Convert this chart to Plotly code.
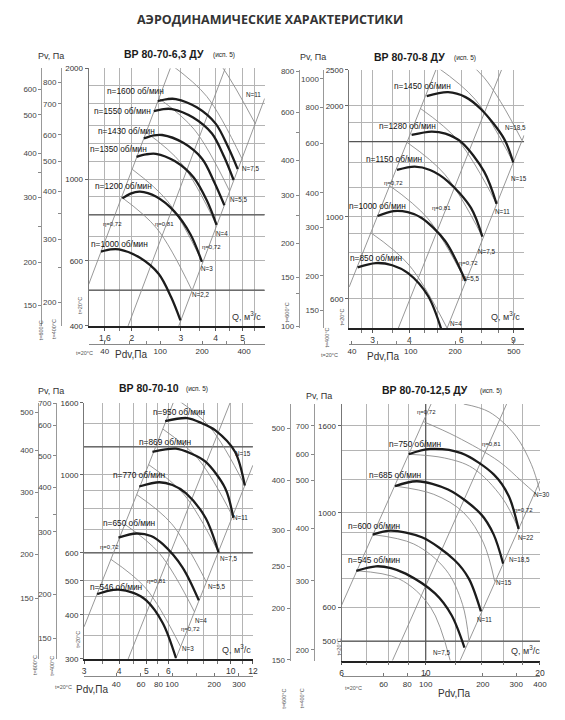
import math
import plotly.graph_objects as go

W, H = 565, 720
TITLE = "АЭРОДИНАМИЧЕСКИЕ ХАРАКТЕРИСТИКИ"

# ---------------- Panel 1 : ВР 80-70-6,3 ДУ ----------------
p1_speeds = [1000, 1200, 1350, 1430, 1550, 1600]
p1_q = [[1.55, 1.68, 1.80, 2.14, 2.5, 2.77, 2.99],
        [1.85, 1.98, 2.14, 2.45, 2.84, 3.25, 3.57],
        [2.08, 2.25, 2.44, 2.86, 3.33, 3.72, 4.03],
        [2.21, 2.40, 2.57, 3.06, 3.58, 3.96, 4.30],
        [2.40, 2.60, 2.79, 3.32, 3.88, 4.29, 4.64],
        [2.48, 2.69, 2.88, 3.42, 4.00, 4.43, 4.80]]
p1_p = [[636, 645, 645, 612, 553, 478, 414],
        [887, 914, 925, 896, 818, 708, 597],
        [1150, 1168, 1172, 1118, 1012, 875, 752],
        [1290, 1315, 1318, 1255, 1135, 980, 850],
        [1530, 1550, 1550, 1470, 1330, 1150, 995],
        [1630, 1650, 1650, 1567, 1415, 1224, 1065]]
p1_power = ["2,2", "3", "4", "5,5", "7,5", "11"]
p1_power_q = [[1.84, 2.46, 3.29], [2.01, 2.686, 3.59], [2.25, 3.01, 4.03],
              [2.5, 3.35, 4.49], [2.78, 3.717, 4.97], [3.16, 4.2, 5.55]]
p1_power_p = [[893, 735, 499], [1063, 872, 594], [1341, 1105, 750],
              [1658, 1365, 928], [2040, 1677, 1137], [2637, 2030, 1415]]
p1_eff = ["0,72", "0,81", "0,72"]
p1_eff_q = [[1.4, 2.75], [1.94, 4.33], [2.95, 6.0]]
p1_eff_p = [[518, 2000], [400, 2000], [400, 1656]]
p1_q_ticks = [1.6, 1.8, 2, 2.5, 3, 3.5, 4, 4.5, 5, 5.5]
p1_q_labels = ["1,6", "", "2", "", "3", "", "4", "", "5", ""]
p1_p_ticks = [400, 500, 600, 700, 800, 900, 1000, 1120, 1250, 1400, 1600, 1800, 2000]
p1_p_labels = ["400", "", "600", "", "", "", "1000", "", "", "", "", "", "2000"]
p1_dark_p = [500, 800]
p1_dark_q = []
p1_pdv_ticks = [40, 60, 80, 100, 200, 300, 400]
p1_pdv_labels = ["40", "", "", "100", "200", "", "400"]
p1_t400_at = [1835, 1601, 1320, 1120, 925, 808, 686, 576, 464]
p1_t400_labels = ["800", "700", "600", "500", "400", "", "300", "", "200"]
p1_t600_at = [1750, 1494, 1176, 1040, 891, 743, 596, 455]
p1_t600_labels = ["600", "500", "400", "", "300", "", "200", "150"]

# ---------------- Panel 2 : ВР 80-70-8 ДУ ----------------
p2_speeds = [850, 1000, 1150, 1280, 1450]
p2_q = [[2.67, 3.08, 3.5, 3.97, 4.64, 5.2],
        [3.12, 3.54, 3.95, 4.39, 5.28, 6.2],
        [3.63, 4.17, 4.7, 5.41, 6.47, 7.07],
        [4.07, 4.76, 5.3, 6.0, 7.17, 7.9],
        [4.58, 5.41, 6.2, 7.0, 8.38, 9.0]]
p2_p = [[730, 750, 740, 703, 609, 480],
        [1006, 1037, 1030, 995, 862, 671],
        [1340, 1368, 1340, 1247, 1058, 884],
        [1667, 1703, 1680, 1594, 1326, 1085],
        [2124, 2176, 2110, 1956, 1627, 1404]]
p2_power = ["4", "5,5", "7,5", "11", "15", "18,5"]
p2_power_q = [[2.962, 3.988, 5.37], [3.43, 4.611, 6.2], [3.926, 5.268, 7.07],
              [4.363, 5.871, 7.9], [4.964, 6.684, 9.0], [5.32, 7.154, 9.62]]
p2_power_p = [[906, 741, 500], [1215, 992, 671], [1592, 1305, 884],
              [1966, 1606, 1085], [2546, 2080, 1404], [2924, 2387, 1614]]
p2_eff = ["0,72", "0,81", "0,72"]
p2_eff_q = [[2.5, 4.92], [3.67, 8.21], [5.37, 9.8]]
p2_eff_p = [[646, 2500], [500, 2500], [500, 1665]]
p2_q_ticks = [2.75, 3, 3.5, 4, 4.5, 5, 6, 7, 8, 9]
p2_q_labels = ["", "3", "", "4", "", "", "6", "", "", "9"]
p2_p_ticks = [500, 600, 700, 800, 900, 1000, 1200, 1400, 1600, 1800, 2000, 2500]
p2_p_labels = ["", "600", "", "", "", "1000", "", "", "", "", "2000", "2500"]
p2_dark_p = [1600]
p2_dark_q = []
p2_pdv_ticks = [40, 60, 80, 100, 200, 300, 500]
p2_pdv_labels = ["40", "", "", "100", "200", "", "500"]
p2_t400_at = [2365, 1984, 1584, 1161, 936, 693, 559]
p2_t400_labels = ["1000", "800", "600", "400", "300", "200", "150"]
p2_t600_at = [2475, 1916, 1695, 1425, 1144, 1006, 848, 686, 622, 505]
p2_t600_labels = ["800", "600", "", "400", "300", "", "200", "150", "", "100"]

# ---------------- Panel 3 : ВР 80-70-10 ----------------
p3_speeds = [546, 650, 770, 869, 950]
p3_q = [[3.34, 3.65, 3.98, 4.5, 5.0, 5.73, 6.38],
        [3.98, 4.61, 5.2, 5.73, 6.73, 7.7],
        [4.72, 5.57, 6.2, 6.92, 8.13, 9.06],
        [5.26, 6.38, 7.2, 8.13, 9.56, 10.22],
        [5.84, 7.0, 7.9, 8.82, 10.36, 11.23]]
p3_p = [[458, 468, 472, 462, 440, 379, 302],
        [663, 681, 670, 635, 546, 440],
        [926, 952, 935, 887, 755, 601],
        [1162, 1186, 1150, 1089, 916, 755],
        [1420, 1448, 1400, 1336, 1162, 932]]
p3_power = ["3", "4", "5,5", "7,5", "11", "15"]
p3_power_q = [[3.744, 4.982, 6.63], [4.196, 5.584, 7.43], [4.626, 6.155, 8.19],
              [5.10, 6.8, 9.06], [5.73, 7.65, 10.22], [6.34, 8.44, 11.23]]
p3_power_p = [[575, 476, 325], [723, 597, 408], [878, 726, 496],
              [1068, 881, 601], [1348, 1110, 755], [1650, 1364, 932]]
p3_eff = ["0,72", "0,81", "0,72"]
p3_eff_q = [[3.0, 6.24], [4.31, 9.95], [6.37, 12.0]]
p3_eff_p = [[370, 1600], [300, 1600], [300, 1064]]
p3_q_ticks = [3, 3.5, 4, 4.5, 5, 5.5, 6, 7, 8, 9, 10, 11, 12]
p3_q_labels = ["3", "", "4", "", "5", "", "6", "", "", "", "10", "", "12"]
p3_p_ticks = [300, 350, 400, 450, 500, 600, 700, 800, 900, 1000, 1200, 1400, 1600]
p3_p_labels = ["300", "", "400", "", "500", "600", "", "", "", "1000", "", "", "1600"]
p3_dark_p = [600, 1200]
p3_dark_q = []
p3_pdv_ticks = [40, 60, 80, 100, 150, 200, 300]
p3_pdv_labels = ["40", "60", "80", "100", "", "200", "300"]
p3_t400_at = [1595, 1379, 1131, 922, 771, 689, 457, 343]
p3_t400_labels = ["700", "600", "500", "400", "", "300", "200", "150"]
p3_t600_at = [1505, 1174, 893, 755, 595, 445]
p3_t600_labels = ["500", "400", "300", "", "200", "150"]

# ---------------- Panel 4 : ВР 80-70-12,5 ДУ ----------------
p4_speeds = [545, 600, 685, 750]
p4_q = [[6.56, 7.39, 8.1, 8.85, 10.58, 11.7, 12.65],
        [7.25, 8.09, 9.77, 11.92, 13.0, 13.98],
        [8.3, 9.48, 11.45, 13.98, 15.1, 16.0],
        [9.02, 10.27, 12.41, 15.13, 16.55, 17.57]]
p4_p = [[731, 749, 742, 720, 647, 575, 483],
        [889, 908, 876, 774, 700, 587],
        [1155, 1186, 1134, 993, 890, 760],
        [1372, 1412, 1380, 1229, 1095, 916]]
p4_power = ["7,5", "11", "15", "18,5", "22", "30"]
p4_arc_q = [[6.56, 8.5, 10.3, 11.6],
            [7.25, 9.3, 11.3, 12.5, 13.0],
            [8.3, 10.5, 12.6, 14.2, 15.2],
            [9.02, 11.2, 13.3, 15.9, 17.57],
            [9.85, 12.04, 15.6, 17.9, 19.6],
            [12.6, 14.69, 17.2, 19.0, 20.0]]
p4_arc_p = [[731, 700, 600, 450],
            [889, 845, 735, 610, 501],
            [1155, 1105, 1000, 850, 690],
            [1372, 1345, 1274, 1085, 916],
            [1637, 1509, 1320, 1186, 1104],
            [1800, 1725, 1522, 1297, 1124]]
p4_eff = ["0,72", "0,81", "0,72"]
p4_eff_q = [[6.0, 10.33], [8.17, 16.34], [12.32, 20.0]]
p4_eff_p = [[607, 1800], [450, 1800], [450, 1187]]
p4_q_ticks = [6, 7, 8, 9, 10, 12, 14, 16, 18, 20]
p4_q_labels = ["6", "", "", "", "10", "", "", "", "", "20"]
p4_p_ticks = [450, 500, 600, 700, 800, 900, 1000, 1200, 1400, 1600, 1800]
p4_p_labels = ["", "500", "600", "", "", "", "1000", "", "", "1600", ""]
p4_dark_p = [500]
p4_dark_q = [10]
p4_pdv_ticks = [60, 80, 100, 200, 300, 400]
p4_pdv_labels = ["60", "80", "100", "200", "300", "400"]
p4_t400_at = [1600, 1372, 1193, 921, 693, 477]
p4_t400_labels = ["700", "600", "500", "400", "300", "200"]
p4_t600_at = [1577, 1190, 910, 748, 596, 452]
p4_t600_labels = ["500", "400", "300", "250", "200", "150"]

# ---------------- layout description (pixel boxes, label anchors) ----------------
PANELS = [
    dict(name="ВР 80-70-6,3 ДУ", speeds=p1_speeds, q=p1_q, p=p1_p,
         arc_q=p1_power_q, arc_p=p1_power_p, N=p1_power, eff=p1_eff, eff_q=p1_eff_q, eff_p=p1_eff_p,
         qt=p1_q_ticks, ql=p1_q_labels, pt=p1_p_ticks, pl=p1_p_labels,
         dark_p=p1_dark_p, dark_q=p1_dark_q, pdv_t=p1_pdv_ticks, pdv_l=p1_pdv_labels, pdv_k=15.625,
         t4=p1_t400_at, t4l=p1_t400_labels, t6=p1_t600_at, t6l=p1_t600_labels,
         box=(88, 65, 267, 326), qr=(1.4, 6.0), pr=(400, 2000), ax6=40, ax4=60, pdv_y=344,
         title=(165, 225.5, 51), pv=(49.5, 53), qlab=(248, 316),
         t20=(79, 305), t400=(53, 329), t600=(39, 330), t20b=(84, 353), pdvlab=(131, 355),
         n_pos=[(119, 243), (123, 184), (118, 147), (127, 129), (122, 108), (136, 88)],
         N_pos=[(202, 294), (208, 268), (224, 232), (240, 198), (253, 167), (256, 92)],
         eff_pos=[(112, 223), (165, 223), (213, 246)]),
    dict(name="ВР 80-70-8 ДУ", speeds=p2_speeds, q=p2_q, p=p2_p,
         arc_q=p2_power_q, arc_p=p2_power_p, N=p2_power, eff=p2_eff, eff_q=p2_eff_q, eff_p=p2_eff_p,
         qt=p2_q_ticks, ql=p2_q_labels, pt=p2_p_ticks, pl=p2_p_labels,
         dark_p=p2_dark_p, dark_q=p2_dark_q, pdv_t=p2_pdv_ticks, pdv_l=p2_pdv_labels, pdv_k=6.12,
         t4=p2_t400_at, t4l=p2_t400_labels, t6=p2_t600_at, t6l=p2_t600_labels,
         box=(352.7, 66.7, 530.7, 328.3), qr=(2.5, 9.8), pr=(500, 2500), ax6=301.7, ax4=326.7, pdv_y=344,
         title=(414, 470, 54), pv=(316.5, 54), qlab=(512, 316),
         t20=(346, 317), t400=(330, 338), t600=(290, 312), t20b=(333, 355), pdvlab=(387, 357),
         n_pos=[(380, 257), (382, 205), (398, 157), (412, 124), (427, 83)],
         N_pos=[(461, 324), (476, 278), (492, 251), (509, 210), (525, 177), (522, 125)],
         eff_pos=[(398, 181), (447, 207), (474, 262)]),
    dict(name="ВР 80-70-10", speeds=p3_speeds, q=p3_q, p=p3_p,
         arc_q=p3_power_q, arc_p=p3_power_p, N=p3_power, eff=p3_eff, eff_q=p3_eff_q, eff_p=p3_eff_p,
         qt=p3_q_ticks, ql=p3_q_labels, pt=p3_p_ticks, pl=p3_p_labels,
         dark_p=p3_dark_p, dark_q=p3_dark_q, pdv_t=p3_pdv_ticks, pdv_l=p3_pdv_labels, pdv_k=2.62,
         t4=p3_t400_at, t4l=p3_t400_labels, t6=p3_t600_at, t6l=p3_t600_labels,
         box=(83.3, 403.8, 255, 663.3), qr=(3.0, 12.0), pr=(300, 1600), ax6=36.7, ax4=55, pdv_y=680.7,
         title=(149, 198, 389), pv=(50, 392), qlab=(238, 653),
         t20=(77, 643), t400=(50, 670), t600=(33, 669), t20b=(62, 692), pdvlab=(91, 694),
         n_pos=[(116, 590), (129, 526), (139, 477), (166, 444), (180, 413)],
         N_pos=[(189, 653), (202, 624), (218, 590), (230, 562), (242, 520), (245, 455)],
         eff_pos=[(109, 550), (157, 584), (192, 633)]),
    dict(name="ВР 80-70-12,5 ДУ", speeds=p4_speeds, q=p4_q, p=p4_p,
         arc_q=p4_arc_q, arc_p=p4_arc_p, N=p4_power, eff=p4_eff, eff_q=p4_eff_q, eff_p=p4_eff_p,
         qt=p4_q_ticks, ql=p4_q_labels, pt=p4_p_ticks, pl=p4_p_labels,
         dark_p=p4_dark_p, dark_q=p4_dark_q, pdv_t=p4_pdv_ticks, pdv_l=p4_pdv_labels, pdv_k=1.0,
         t4=p4_t400_at, t4l=p4_t400_labels, t6=p4_t600_at, t6l=p4_t600_labels,
         box=(345, 405, 546.7, 665), qr=(6.0, 20.0), pr=(450, 1800), ax6=292.3, ax4=316.7, pdv_y=680.7,
         title=(430, 497, 391), pv=(322, 397), qlab=(532, 654),
         t20=(342, 651), t400=(305, 703), t600=(287, 703), t20b=(357, 693), pdvlab=(459, 698),
         n_pos=[(378, 563), (378, 529), (399, 477), (420, 446)],
         N_pos=[(447, 657), (490, 623), (510, 586), (526, 563), (532, 540), (549, 497)],
         eff_pos=[(431, 413), (497, 446), (530, 512)]),
]

BOLD = "#1c1c1c"
THIN = "#8c8c8c"
GRID = "#b4b4b4"
DARK = "#555555"
FONT = "Arial"

fig = go.Figure()
layout = {}


def sfx(i):
    return "" if i == 1 else str(i)


def split(vals, labels):
    major = [v for v, t in zip(vals, labels) if t]
    text = [t for t in labels if t]
    minor = [v for v, t in zip(vals, labels) if not t]
    return major, text, minor


def ann(x, y, text, size=8, color="#222", angle=0, xanchor="center", family=FONT):
    fig.add_annotation(x=x / W, y=1 - y / H, xref="paper", yref="paper", text=text,
                       showarrow=False, textangle=angle, xanchor=xanchor, yanchor="middle",
                       font=dict(size=size, color=color, family=family))


EPS = 2e-4
for k, P in enumerate(PANELS):
    i = k + 1
    xr, yr = "x" + sfx(i), "y" + sfx(i)
    x0, y0, x1, y1 = P["box"]
    qmin, qmax = P["qr"]
    pmin, pmax = P["pr"]
    xrange_ = [math.log10(qmin) - EPS, math.log10(qmax) + EPS]
    yrange_ = [math.log10(pmin) - EPS, math.log10(pmax) + EPS]

    qmaj, qtxt, qmin_ = split(P["qt"], P["ql"])
    layout["xaxis" + sfx(i)] = dict(
        type="log", domain=[x0 / W, x1 / W], range=xrange_, anchor=yr,
        tickmode="array", tickvals=qmaj, ticktext=qtxt, tickangle=0,
        showgrid=True, gridcolor=GRID, gridwidth=0.8, zeroline=False,
        showline=True, linecolor="#222", linewidth=1.6,
        ticks="outside", ticklen=3, tickcolor="#555", tickwidth=0.8,
        minor=dict(tickmode="array", tickvals=qmin_, ticks="outside", ticklen=3, tickcolor="#777",
                   showgrid=True, gridcolor=GRID, gridwidth=0.8),
        tickfont=dict(size=8.5, color="#333", family=FONT), fixedrange=True)
    pmaj, ptxt, pmin_ = split(P["pt"], P["pl"])
    layout["yaxis" + sfx(i)] = dict(
        type="log", domain=[1 - y1 / H, 1 - y0 / H], range=yrange_, anchor=xr,
        tickmode="array", tickvals=pmaj, ticktext=ptxt, tickangle=0,
        showgrid=True, gridcolor=GRID, gridwidth=0.8, zeroline=False,
        showline=True, linecolor="#777", linewidth=1,
        ticks="outside", ticklen=3, tickcolor="#666", tickwidth=0.8,
        minor=dict(tickmode="array", tickvals=pmin_, ticks="", showgrid=True,
                   gridcolor=GRID, gridwidth=0.8),
        tickfont=dict(size=8, color="#333", family=FONT), fixedrange=True)

    # dynamic-pressure axis (Pdv = k*Q^2)
    ipdv = k + 5
    kk = P["pdv_k"]
    dmaj, dtxt, dmin_ = split(P["pdv_t"], P["pdv_l"])
    layout["xaxis" + sfx(ipdv)] = dict(
        type="log", overlaying=xr, anchor="free", position=1 - P["pdv_y"] / H, side="bottom",
        range=[math.log10(kk * qmin ** 2) - EPS, math.log10(kk * qmax ** 2) + 2 * EPS],
        tickmode="array", tickvals=dmaj, ticktext=dtxt, tickangle=0,
        showgrid=False, zeroline=False, showline=True, linecolor="#888", linewidth=1,
        ticks="inside", ticklen=3, tickcolor="#777",
        minor=dict(tickmode="array", tickvals=dmin_, ticks="inside", ticklen=3,
                   tickcolor="#888", showgrid=False),
        tickfont=dict(size=8, color="#333", family=FONT), fixedrange=True)
    fig.add_trace(go.Scatter(x=[dmaj[0]], y=[pmaj[0]], xaxis="x" + sfx(ipdv), yaxis=yr,
                             mode="markers", marker=dict(size=1, opacity=0), hoverinfo="skip",
                             showlegend=False))

    # temperature-scaled pressure axes
    for idx, pos, tv, tl in ((5 + 2 * k, P["ax6"], P["t6"], P["t6l"]),
                             (6 + 2 * k, P["ax4"], P["t4"], P["t4l"])):
        smaj, stxt, smin_ = split(tv, tl)
        layout["yaxis" + sfx(idx)] = dict(
            type="log", overlaying=yr, anchor="free", position=pos / W, side="left",
            range=yrange_, tickmode="array", tickvals=smaj, ticktext=stxt, tickangle=0,
            showgrid=False, zeroline=False, showline=True, linecolor="#999", linewidth=1,
            ticks="outside", ticklen=3, tickcolor="#888",
            minor=dict(tickmode="array", tickvals=smin_, ticks="outside", ticklen=3,
                       tickcolor="#888", showgrid=False),
            tickfont=dict(size=8, color="#444", family=FONT), fixedrange=True)
        fig.add_trace(go.Scatter(x=[qmaj[0]], y=[smaj[0]], xaxis=xr, yaxis="y" + sfx(idx),
                                 mode="markers", marker=dict(size=1, opacity=0),
                                 hoverinfo="skip", showlegend=False))

    # darker reference grid lines
    for v in P["dark_p"]:
        fig.add_trace(go.Scatter(x=[qmin, qmax], y=[v, v], xaxis=xr, yaxis=yr, mode="lines",
                                 line=dict(color=DARK, width=1.2), hoverinfo="skip", showlegend=False))
    for v in P["dark_q"]:
        fig.add_trace(go.Scatter(x=[v, v], y=[pmin, pmax], xaxis=xr, yaxis=yr, mode="lines",
                                 line=dict(color=DARK, width=1.2), hoverinfo="skip", showlegend=False))

    # efficiency lines
    for qs, ps in zip(P["eff_q"], P["eff_p"]):
        fig.add_trace(go.Scatter(x=qs, y=ps, xaxis=xr, yaxis=yr, mode="lines",
                                 line=dict(color=THIN, width=0.9), hoverinfo="skip", showlegend=False))
    # power lines
    for qs, ps in zip(P["arc_q"], P["arc_p"]):
        fig.add_trace(go.Scatter(x=qs, y=ps, xaxis=xr, yaxis=yr, mode="lines",
                                 line=dict(color=THIN, width=0.9, shape="spline", smoothing=1.0),
                                 hoverinfo="skip", showlegend=False))
    # fan characteristics
    for n, qs, ps in zip(P["speeds"], P["q"], P["p"]):
        fig.add_trace(go.Scatter(x=qs, y=ps, xaxis=xr, yaxis=yr, mode="lines", name=f"n={n}",
                                 line=dict(color=BOLD, width=2.3, shape="spline", smoothing=0.9),
                                 hoverinfo="skip", showlegend=False))

    # texts
    tx1, tx2, ty = P["title"]
    ann(tx1, ty, "<b>" + P["name"] + "</b>", size=10.5, color="#1a1a1a")
    ann(tx2, ty + 1, "(исп. 5)", size=6.5, color="#222")
    ann(P["pv"][0], P["pv"][1], "Pv, Па", size=9, color="#333")
    ann(P["qlab"][0], P["qlab"][1], "Q, м<sup>3</sup>/с", size=9, color="#333")
    ann(P["t20"][0], P["t20"][1], "t=20°C", size=5.5, color="#555", angle=-90)
    ann(P["t400"][0], P["t400"][1], "t=400°C", size=5.5, color="#555", angle=-90)
    ann(P["t600"][0], P["t600"][1], "t=600°C", size=5.5, color="#555", angle=-90)
    ann(P["t20b"][0], P["t20b"][1], "t=20°C", size=5.5, color="#555")
    ann(P["pdvlab"][0], P["pdvlab"][1], "Pdv,Па", size=10, color="#333")
    for n, (x, y) in zip(P["speeds"], P["n_pos"]):
        ann(x, y, f"n={n} об/мин", size=8.3, color="#111")
    for nv, (x, y) in zip(P["N"], P["N_pos"]):
        ann(x, y, f"N={nv}", size=6.3, color="#222")
    for ev, (x, y) in zip(P["eff"], P["eff_pos"]):
        ann(x, y, f"η={ev}", size=6, color="#222")

ann(272, 16, "<b>" + TITLE + "</b>", size=12.5, color="#333", family="Open Sans")

fig.update_layout(width=W, height=H, margin=dict(l=0, r=0, t=0, b=0),
                  paper_bgcolor="white", plot_bgcolor="white", showlegend=False,
                  **layout)
fig.write_html("out.html")
